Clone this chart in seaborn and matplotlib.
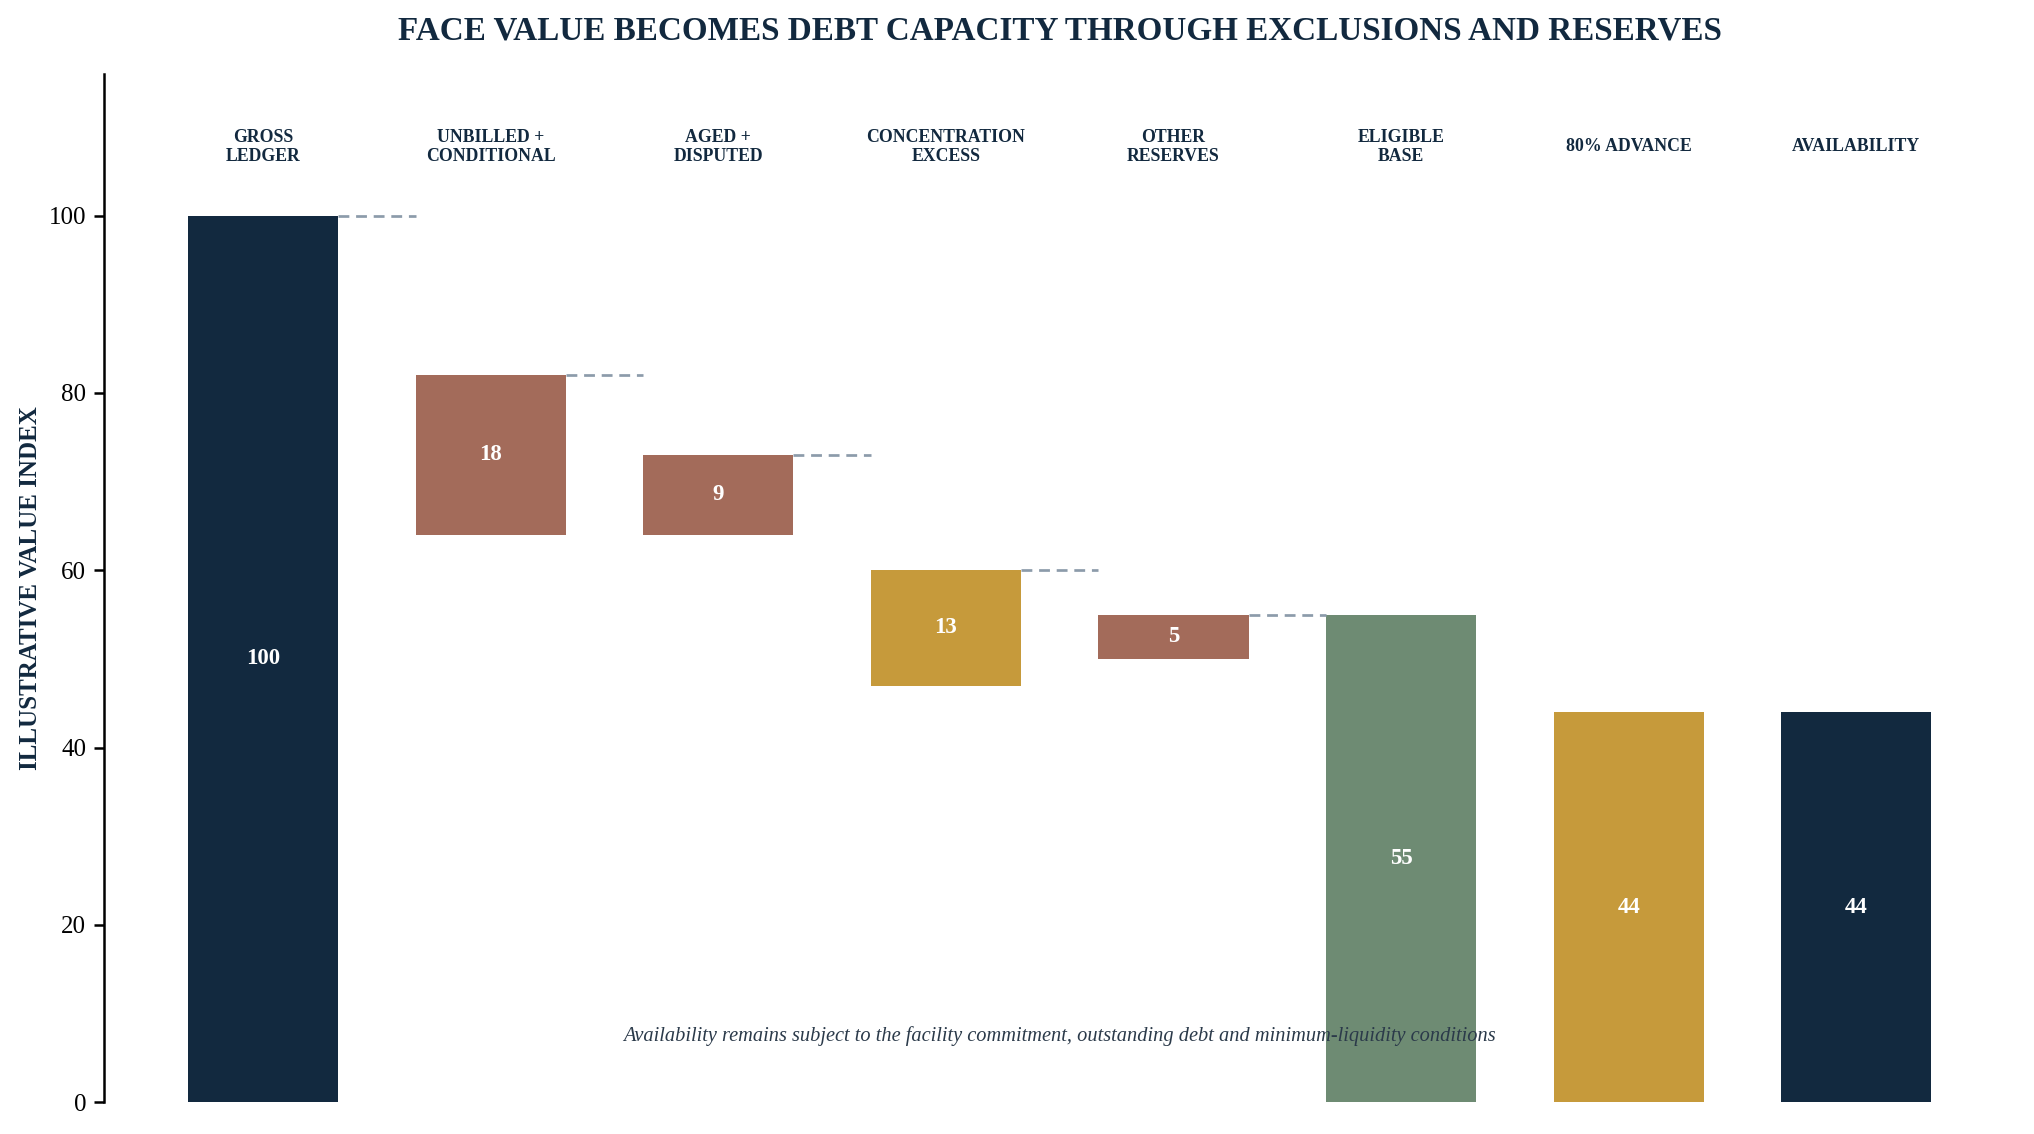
import matplotlib.pyplot as plt
import pandas as pd
import seaborn as sns

CATEGORIES = [
    "GROSS\nLEDGER",
    "UNBILLED +\nCONDITIONAL",
    "AGED +\nDISPUTED",
    "CONCENTRATION\nEXCESS",
    "OTHER\nRESERVES",
    "ELIGIBLE\nBASE",
    "80% ADVANCE",
    "AVAILABILITY",
]
BAR_BOTTOMS = [0, 64, 64, 47, 50, 0, 0, 0]
BAR_VALUES = [100, 18, 9, 13, 5, 55, 44, 44]
CONNECTOR_LEVELS = [100, 82, 73, 60, 55]

NAVY = "#12293f"
RUST = "#a36b5a"
GOLD = "#c69a3b"
SAGE = "#6e8b73"
BAR_COLORS = [NAVY, RUST, RUST, GOLD, RUST, SAGE, GOLD, NAVY]

TITLE = "FACE VALUE BECOMES DEBT CAPACITY THROUGH EXCLUSIONS AND RESERVES"
FOOTNOTE = ("Availability remains subject to the facility commitment, "
            "outstanding debt and minimum-liquidity conditions")

sns.set_theme(style="white")
plt.rcParams["font.family"] = ["Liberation Serif", "DejaVu Serif"]

df = pd.DataFrame({"step": CATEGORIES, "value": BAR_VALUES, "bottom": BAR_BOTTOMS})

fig = plt.figure(figsize=(13.56, 7.56), dpi=150)
ax = fig.add_axes([0.051, 0.028, 0.94, 0.907])

width = 0.66
sns.barplot(data=df, x="step", y="value", bottom=df["bottom"].to_numpy(),
            order=CATEGORIES, color=NAVY, width=width, errorbar=None,
            saturation=1, ax=ax)
for patch, color in zip(ax.patches, BAR_COLORS):
    patch.set_facecolor(color)
    patch.set_edgecolor(color)
    patch.set_linewidth(0)

# dashed connectors between consecutive bars
for i, level in enumerate(CONNECTOR_LEVELS):
    ax.plot([i + width / 2, i + 1 - width / 2], [level, level],
            ls=(0, (4, 2.5)), color="#8c9baa", lw=1.3, zorder=1)

# value labels inside bars
for i, (b, v) in enumerate(zip(BAR_BOTTOMS, BAR_VALUES)):
    ax.text(i, b + v / 2, f"{v}", ha="center", va="center", color="white",
            fontsize=11, fontweight="bold")

# category headers above the bars
for i, name in enumerate(CATEGORIES):
    ax.text(i, 107.75, name, ha="center", va="center", color=NAVY,
            fontsize=8.5, fontweight="bold", linespacing=1.1)

ax.text(3.5, 7.5, FOOTNOTE, ha="center", va="center", color="#2b3a4a",
        fontsize=9.8, fontstyle="italic")

ax.set_xlim(-0.7, 7.7)
ax.set_ylim(0, 116)
ax.set_yticks([0, 20, 40, 60, 80, 100])
ax.set_xticks([])
ax.set_xlabel("")
ax.set_ylabel("ILLUSTRATIVE VALUE INDEX", fontsize=12, fontweight="bold",
              color=NAVY, labelpad=3)
ax.tick_params(axis="y", labelsize=12, colors="black", left=True,
               length=5, width=1.2)
for side in ["top", "right", "bottom"]:
    ax.spines[side].set_visible(False)
ax.spines["left"].set_color("black")
ax.spines["left"].set_linewidth(1.2)

fig.suptitle(TITLE, x=0.521, y=0.973, va="center", fontsize=15.9,
             fontweight="bold", color=NAVY)

fig.savefig("out.png", dpi=150)
